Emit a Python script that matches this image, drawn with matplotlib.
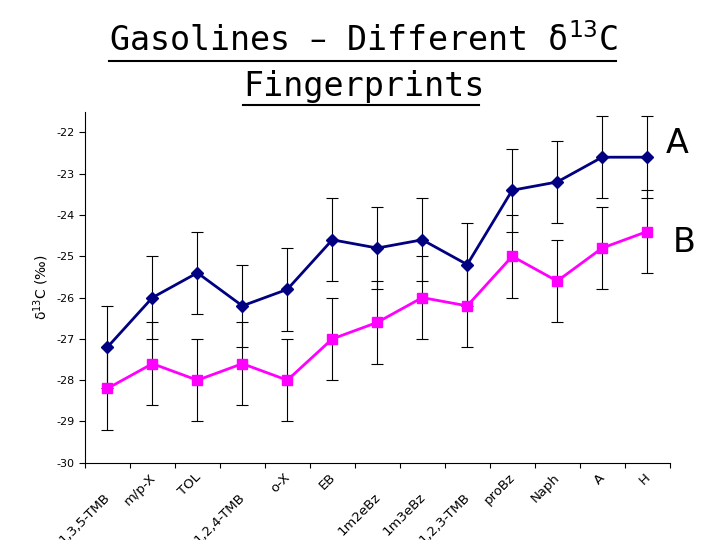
import matplotlib.pyplot as plt
from matplotlib.lines import Line2D

plt.rcParams["axes.unicode_minus"] = False

compounds = ["1,3,5-TMB", "m/p-X", "TOL", "1,2,4-TMB", "o-X", "EB", "1m2eBz",
             "1m3eBz", "1,2,3-TMB", "proBz", "Naph", "A", "H"]
gas_a = [-27.2, -26.0, -25.4, -26.2, -25.8, -24.6, -24.8, -24.6, -25.2, -23.4, -23.2, -22.6, -22.6]
gas_b = [-28.2, -27.6, -28.0, -27.6, -28.0, -27.0, -26.6, -26.0, -26.2, -25.0, -25.6, -24.8, -24.4]
err = 1.0
low_labels = (0, 3, 6, 7, 8)

fig = plt.figure(figsize=(7.2, 5.4), dpi=100)
ax = fig.add_axes([0.118, 0.143, 0.812, 0.65])
x = list(range(len(compounds)))
ax.errorbar(x, gas_a, yerr=err, color="#000080", marker="D", ms=6, lw=2,
            ecolor="black", elinewidth=0.8, capsize=4, capthick=0.8)
ax.errorbar(x, gas_b, yerr=err, color="#FF00FF", marker="s", ms=7, lw=2,
            ecolor="black", elinewidth=0.8, capsize=4, capthick=0.8)
ax.set_xlim(-0.5, len(compounds) - 0.5)
ax.set_ylim(-30, -21.5)
ax.set_yticks(range(-30, -21))
ax.tick_params(axis="y", labelsize=8, length=4)
ax.set_xticks([i - 0.5 for i in range(len(compounds) + 1)])
ax.set_xticklabels([])
for i, lab in enumerate(compounds):
    off = -20 if i in low_labels else -6
    ax.annotate(lab, (i, -30), xytext=(4, off), textcoords="offset points",
                rotation=45, ha="right", va="top", fontsize=9.5,
                annotation_clip=False)
ax.spines["top"].set_visible(False)
ax.spines["right"].set_visible(False)
ax.set_ylabel("δ$^{13}$C (‰)", fontsize=10)

fig.text(0.505, 0.925, "Gasolines – Different δ$^{13}$C", ha="center", va="center",
         fontsize=24, family="DejaVu Sans Mono")
fig.text(0.505, 0.84, "Fingerprints", ha="center", va="center",
         fontsize=24, family="DejaVu Sans Mono")
fig.add_artist(Line2D([0.152, 0.855], [0.887, 0.887], color="black", lw=1.5))
fig.add_artist(Line2D([0.338, 0.665], [0.805, 0.805], color="black", lw=1.5))
fig.text(0.94, 0.735, "A", fontsize=24, ha="center", va="center")
fig.text(0.95, 0.55, "B", fontsize=24, ha="center", va="center")

fig.savefig("out.png")
